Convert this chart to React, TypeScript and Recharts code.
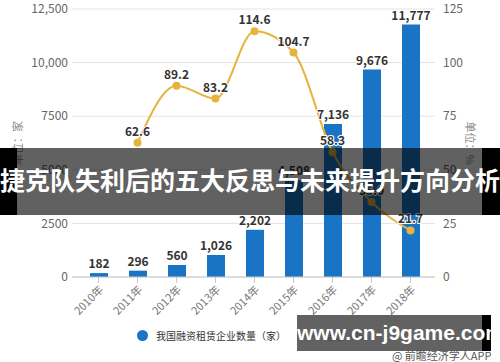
import React from "react";
import {
  Bar,
  CartesianGrid,
  ComposedChart,
  LabelList,
  Line,
  XAxis,
  YAxis,
} from "recharts";

const years = ["2010年", "2011年", "2012年", "2013年", "2014年", "2015年", "2016年", "2017年", "2018年"];
const companies = [182, 296, 560, 1026, 2202, 4508, 7136, 9676, 11777];
const growth = [null, 62.6, 89.2, 83.2, 114.6, 104.7, 58.3, 35.0, 21.7];
const leftTicks = [0, 2500, 5000, 7500, 10000, 12500];
const rightTicks = [0, 25, 50, 75, 100, 125];

const data = years.map((name, i) => ({
  name,
  count: companies[i],
  growth: growth[i],
}));

const BLUE = "#1a74c6";
const GOLD = "#e6b33c";
const FONT = "'Noto Sans CJK SC', 'Noto Sans', sans-serif";

const fmtLeft = (v: number) => (v >= 10000 ? v.toLocaleString("en-US") : String(v));

export default function App() {
  return (
    <div
      style={{
        position: "absolute",
        left: 0,
        top: 0,
        width: 500,
        height: 362,
        background: "#fff",
        fontFamily: FONT,
        overflow: "hidden",
      }}
    >
      <ComposedChart
        width={500}
        height={362}
        data={data}
        margin={{ top: 9, right: 20, bottom: 45, left: 0 }}
      >
        <CartesianGrid vertical={false} stroke="#e4e4e4" yAxisId="left" />
        <XAxis
          dataKey="name"
          height={40}
          padding={{ left: 7, right: 5 }}
          angle={-45}
          textAnchor="end"
          interval={0}
          stroke="#c8c8c8"
          tick={{ fontSize: 11, fill: "#777" }}
        />
        <YAxis
          yAxisId="left"
          width={72}
          domain={[0, 12500]}
          ticks={leftTicks}
          tickFormatter={fmtLeft}
          axisLine={false}
          tickLine={false}
          tickSize={2}
          tick={{ fontSize: 12, fill: "#666" }}
          label={{
            value: "单位：家",
            angle: -90,
            position: "insideLeft",
            offset: 18,
            style: { fontSize: 11, fill: "#888", textAnchor: "middle" },
          }}
        />
        <YAxis
          yAxisId="right"
          orientation="right"
          width={45}
          domain={[0, 125]}
          ticks={rightTicks}
          axisLine={false}
          tickLine={false}
          tick={{ fontSize: 12, fill: "#666" }}
          label={{
            value: "单位：%",
            angle: 90,
            position: "insideRight",
            offset: 10,
            style: { fontSize: 11, fill: "#888", textAnchor: "middle" },
          }}
        />
        <Bar yAxisId="left" dataKey="count" fill={BLUE} barSize={18} isAnimationActive={false}>
          <LabelList
            dataKey="count"
            position="top"
            formatter={(v: number) => v.toLocaleString("en-US")}
            style={{ fontSize: 12, fontWeight: 700, fill: "#333" }}
            stroke="#fff"
            strokeWidth={2}
            paintOrder="stroke"
          />
        </Bar>
        <Line
          yAxisId="right"
          type="monotone"
          dataKey="growth"
          stroke={GOLD}
          strokeWidth={2}
          dot={{ r: 4, fill: GOLD, stroke: GOLD, strokeWidth: 0 }}
          connectNulls={false}
          isAnimationActive={false}
        >
          <LabelList
            dataKey="growth"
            position="top"
            offset={7}
            formatter={(v: number | null) => (v == null ? "" : v.toFixed(1))}
            style={{ fontSize: 12, fontWeight: 700, fill: "#333" }}
            stroke="#fff"
            strokeWidth={2}
            paintOrder="stroke"
          />
        </Line>
      </ComposedChart>

      {/* legend */}
      <div style={{ position: "absolute", left: 137, top: 328, display: "flex", alignItems: "center", fontSize: 10, color: "#333", whiteSpace: "nowrap" }}>
        <span style={{ width: 11, height: 11, borderRadius: "50%", background: BLUE, display: "inline-block", marginRight: 8 }} />
        <span>我国融资租赁企业数量（家）</span>
        <span style={{ position: "relative", width: 18, height: 11, marginLeft: 14, marginRight: 6, display: "inline-block" }}>
          <span style={{ position: "absolute", left: 0, top: 5, width: 18, height: 2, background: GOLD }} />
          <span style={{ position: "absolute", left: 5, top: 2, width: 8, height: 8, borderRadius: "50%", background: GOLD }} />
        </span>
        <span>增速（%）</span>
      </div>

      {/* title banner */}
      <div style={{ position: "absolute", left: 0, top: 148, width: 500, height: 67, background: "rgba(0,0,0,0.62)" }} />
      <div style={{ position: "absolute", left: 0, top: 148, width: 17, height: 67, background: "#000" }} />
      <div style={{ position: "absolute", left: 482, top: 148, width: 18, height: 67, background: "#000" }} />
      <div
        style={{
          position: "absolute",
          left: 0,
          top: 148,
          width: 500,
          height: 67,
          lineHeight: "67px",
          textAlign: "center",
          color: "#fff",
          fontWeight: 700,
          fontSize: 25,
          whiteSpace: "nowrap",
          marginTop: -2,
        }}
      >
        捷克队失利后的五大反思与未来提升方向分析
      </div>

      {/* watermark */}
      <div style={{ position: "absolute", left: 392, top: 349, fontSize: 11, lineHeight: "13px", color: "#555", whiteSpace: "nowrap" }}>
        @ 前瞻经济学人APP
      </div>
      <div style={{ position: "absolute", left: 297, top: 315, width: 185, height: 36, background: "rgba(70,70,70,0.85)" }} />
      <div style={{ position: "absolute", left: 482, top: 315, width: 9, height: 36, background: "#000" }} />
      <div
        style={{
          position: "absolute",
          left: 297,
          top: 315,
          width: 185,
          height: 36,
          lineHeight: "35px",
          textAlign: "center",
          color: "#fff",
          fontWeight: 700,
          fontSize: 21,
          fontFamily: "'Liberation Sans', 'DejaVu Sans', sans-serif",
          whiteSpace: "nowrap",
        }}
      >
        www.cn-j9game.com
      </div>
    </div>
  );
}
